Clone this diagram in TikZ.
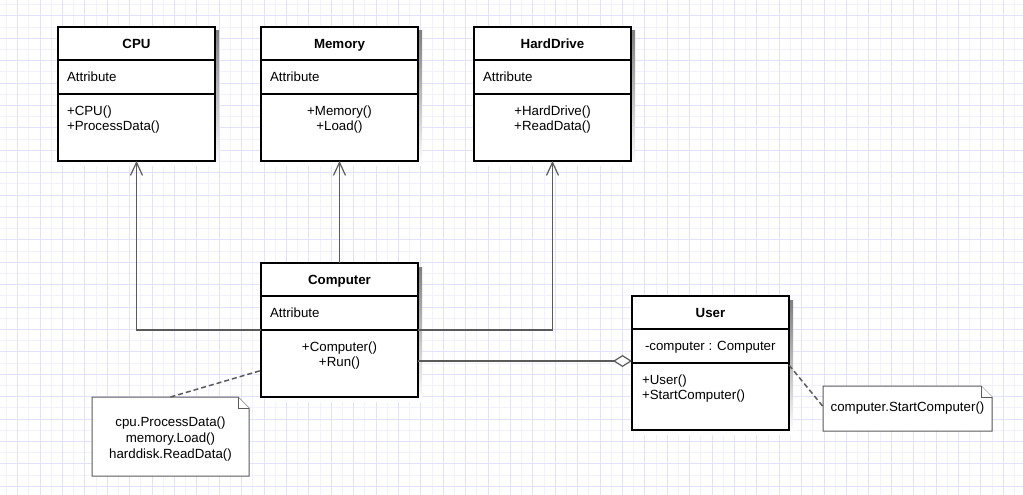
\documentclass[tikz,border=0pt]{standalone}
\usepackage{fontspec}
\setmainfont{Liberation Sans}
\usetikzlibrary{arrows.meta,calc}
\definecolor{gridmajor}{RGB}{226,226,252}
\definecolor{gridminor}{RGB}{242,242,254}
\definecolor{wire}{RGB}{90,90,90}
\definecolor{shade}{RGB}{200,200,200}
\tikzset{
  sect/.style={draw=black, line width=1.6pt, fill=white, minimum width=157pt,
    inner sep=0pt, outer sep=0pt, anchor=north west},
  hdr/.style={sect, minimum height=33pt},
  attr/.style={sect, minimum height=34pt},
  meth/.style={sect, minimum height=67pt},
  txt/.style={inner sep=0pt, outer sep=0pt, font=\fontsize{13.3}{15}\selectfont},
  title/.style={txt, font=\fontsize{13.3}{15}\selectfont\bfseries, anchor=base},
  gen/.style={draw=wire, line width=1.2pt, -{Straight Barb[length=13pt,width=12pt]}},
  agg/.style={draw=wire, line width=1.2pt, -{Diamond[length=19pt,width=12pt,fill=white]}},
  anchorline/.style={draw=wire, line width=1.5pt, dash pattern=on 5pt off 3pt},
  notebox/.style={draw=none, inner sep=0pt, outer sep=0pt, anchor=north west},
  noteline/.style={draw=wire, line width=1pt, fill=white, line join=miter},
}
% class box: name, left, top, title
\newcommand\classbox[4]{%
  \fill[shade] (#2+4,#3+4) rectangle (#2+161,#3+138);
  \node[hdr] (#1) at (#2,#3) {};
  \node[attr] (#1-a) at (#1.south west) {};
  \node[meth] (#1-m) at (#1-a.south west) {};
  \node[title] (#1-t) at ([yshift=-4.8pt]#1.center) {#4};
}
\begin{document}
\begin{tikzpicture}[x=1pt,y=-1pt]
\fill[white] (0,0) rectangle (1023,495);
\useasboundingbox (0,0) rectangle (1023,495);
% background grid
\foreach \x in {6.4,17.6,...,1023} \draw[gridminor, line width=1pt] (\x,0) -- (\x,495);
\foreach \y in {4.7,15.9,...,495} \draw[gridminor, line width=1pt] (0,\y) -- (1023,\y);
\foreach \x in {17.6,40,...,1023} \draw[gridmajor, line width=1pt] (\x,0) -- (\x,495);
\foreach \y in {15.9,38.3,...,495} \draw[gridmajor, line width=1pt] (0,\y) -- (1023,\y);

% classes
\classbox{cpu}{58}{27}{CPU}
\node[txt, anchor=base west] (cpu-at) at ([xshift=9pt,yshift=-4.8pt]cpu-a.west) {Attribute};
\node[txt, anchor=north west, align=left] (cpu-mt) at ([xshift=9pt,yshift=-12.3pt]cpu-m.north west) {+CPU()\\+ProcessData()};

\classbox{mem}{261}{27}{Memory}
\node[txt, anchor=base west] (mem-at) at ([xshift=9pt,yshift=-4.8pt]mem-a.west) {Attribute};
\node[txt, anchor=north, align=center] (mem-mt) at ([yshift=-12.3pt]mem-m.north) {+Memory()\\+Load()};

\classbox{hd}{474}{27}{HardDrive}
\node[txt, anchor=base west] (hd-at) at ([xshift=9pt,yshift=-4.8pt]hd-a.west) {Attribute};
\node[txt, anchor=north, align=center] (hd-mt) at ([yshift=-12.3pt]hd-m.north) {+HardDrive()\\+ReadData()};

\classbox{comp}{261}{263}{Computer}
\node[txt, anchor=base west] (comp-at) at ([xshift=9pt,yshift=-4.8pt]comp-a.west) {Attribute};
\node[txt, anchor=north, align=center] (comp-mt) at ([yshift=-12.3pt]comp-m.north) {+Computer()\\+Run()};

\classbox{user}{632}{296}{User}
\node[txt, anchor=base west] (user-at) at ([xshift=13pt,yshift=-4.8pt]user-a.west) {-computer : Computer};
\node[txt, anchor=north west, align=left] (user-mt) at ([xshift=10pt,yshift=-12.3pt]user-m.north west) {+User()\\+StartComputer()};

% relations
\draw[gen] (comp-a.south west) -| (cpu-m.south);
\draw[gen] (comp.north) -- (mem-m.south);
\draw[gen] (comp-a.south east) -| (hd-m.south);
\draw[agg] ([yshift=2.5pt]comp-m.east) -- ([yshift=2.5pt]comp-m.east -| user-a.west);

% notes
\node[notebox, minimum width=157pt, minimum height=79pt] (note1) at (92,397) {};
\draw[noteline] (note1.north west) -- ([xshift=-11pt]note1.north east) -- ([yshift=-11pt]note1.north east) -- (note1.south east) -- (note1.south west) -- cycle;
\draw[noteline] ([xshift=-11pt]note1.north east) |- ([yshift=-11pt]note1.north east);
\node[txt, align=center, font=\fontsize{13.3}{16}\selectfont] (note1-t) at ([yshift=-2.5pt]note1.center) {cpu.ProcessData()\\memory.Load()\\harddisk.ReadData()};

\node[notebox, minimum width=169pt, minimum height=45pt] (note2) at (823,386) {};
\draw[noteline] (note2.north west) -- ([xshift=-11pt]note2.north east) -- ([yshift=-11pt]note2.north east) -- (note2.south east) -- (note2.south west) -- cycle;
\draw[noteline] ([xshift=-11pt]note2.north east) |- ([yshift=-11pt]note2.north east);
\node[txt] (note2-t) at (note2.center) {computer.StartComputer()};

% note anchors
\draw[anchorline] (note1.north) -- ([yshift=-7pt]comp-m.west);
\draw[anchorline] ([yshift=-2pt]user-m.north east) -- ([yshift=2pt]note2.west);
\end{tikzpicture}
\end{document}
